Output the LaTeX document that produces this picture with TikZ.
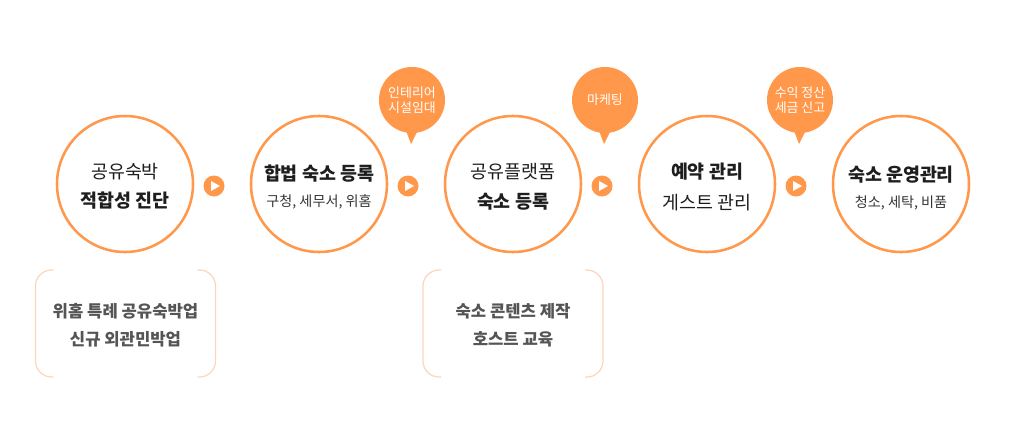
\documentclass[tikz,border=0pt]{standalone}
\usepackage{fontspec}
\setmainfont{Noto Sans CJK KR}
\definecolor{org}{HTML}{FF984B}
\definecolor{peach}{HTML}{FDD6BA}
\definecolor{notegray}{HTML}{555555}
\definecolor{txt}{HTML}{1E1E1E}
\begin{document}
\begin{tikzpicture}[x=0.75pt,y=-0.75pt,
  stage/.style={circle, draw=org, line width=1.9pt, minimum size=102pt, inner sep=0pt, fill=white},
  play/.style={circle, fill=org, minimum size=15.75pt, inner sep=0pt},
  bubble/.style={circle, fill=org, minimum size=49.5pt, inner sep=0pt, text=white, align=center, font=\fontsize{9.7}{11.2}\selectfont},
  mainr/.style={text=txt, font=\fontsize{13.8}{15}\selectfont, inner sep=0pt},
  mainb/.style={text=txt, font=\fontsize{13.8}{15}\selectfont\bfseries, inner sep=0pt},
  subt/.style={text=txt!90, font=\fontsize{10.6}{12}\selectfont, inner sep=0pt},
  notetxt/.style={text=notegray, font=\fontsize{12.5}{14}\selectfont\bfseries, inner sep=0pt},
  bracket/.style={draw=peach, line width=0.9pt, rounded corners=12pt}
]
\useasboundingbox (0,0) rectangle (1024,432);
\fill[white] (0,0) rectangle (1024,432);

% bubbles (drawn first, under circles)
\foreach \n/\bx in {b1/412, b2/605, b3/800}{
  \fill[org] (\bx-7,128) -- (\bx+7,128) -- (\bx-1,144) -- cycle;
}
\node[bubble] (b1) at (412,100) {인테리어\\시설임대};
\node[bubble] (b2) at (605,100) {마케팅};
\node[bubble] (b3) at (800,100) {수익 정산\\세금 신고};

% stage circles
\node[stage] (s1) at (125,184) {};
\node[stage] (s2) at (319,184) {};
\node[stage] (s3) at (513,184) {};
\node[stage] (s4) at (707,184) {};
\node[stage] (s5) at (901,184) {};

% texts
\node[mainr] (t1a) at (125,172) {공유숙박};
\node[mainb] (t1b) at (125,201) {적합성 진단};
\node[mainb] (t2a) at (319,174) {합법 숙소 등록};
\node[subt]  (t2b) at (319,202) {구청, 세무서, 위홈};
\node[mainr] (t3a) at (513,172) {공유플랫폼};
\node[mainb] (t3b) at (513,202) {숙소 등록};
\node[mainb] (t4a) at (707,172) {예약 관리};
\node[mainr] (t4b) at (707,203) {게스트 관리};
\node[mainb] (t5a) at (901,175) {숙소 운영관리};
\node[subt]  (t5b) at (901,203) {청소, 세탁, 비품};

% play buttons
\foreach \n/\px in {p1/214, p2/408, p3/602, p4/796}{
  \node[play] (\n) at (\px,186) {};
  \fill[white] (\n.center) ++(-3,-5) -- ++(9,5) -- ++(-9,5) -- cycle;
}

% note boxes (open brackets)
\foreach \n/\cx in {n1/125.5, n2/513}{
  \draw[bracket] (\cx-72,270) -- (\cx-90,270) -- (\cx-90,377) -- (\cx-72,377);
  \draw[bracket] (\cx+72,270) -- (\cx+90,270) -- (\cx+90,377) -- (\cx+72,377);
}
\node[notetxt] (n1a) at (125.5,311) {위홈 특례 공유숙박업};
\node[notetxt] (n1b) at (125.5,339) {신규 외관민박업};
\node[notetxt] (n2a) at (513,311) {숙소 콘텐츠 제작};
\node[notetxt] (n2b) at (513,339) {호스트 교육};
\end{tikzpicture}
\end{document}
